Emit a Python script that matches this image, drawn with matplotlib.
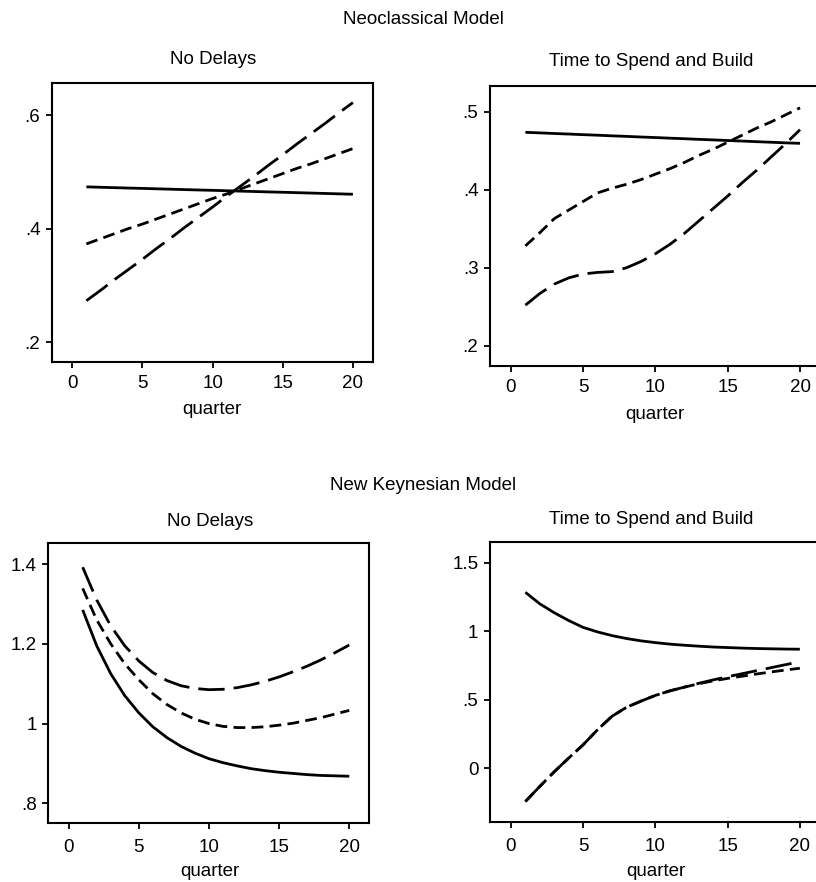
import matplotlib
matplotlib.use("Agg")
import matplotlib.pyplot as plt

plt.rcParams['font.family'] = ['Liberation Sans', 'DejaVu Sans']
plt.rcParams['lines.scale_dashes'] = False

quarter = list(range(1, 21))

# Neoclassical model, no delays
neo_nd_solid = [.4735, .4728, .4721, .4714, .4708, .4701, .4694, .4687, .4680, .4674,
                .4667, .4660, .4653, .4646, .4640, .4633, .4626, .4619, .4612, .4605]
neo_nd_short = [.373, .382, .391, .400, .408, .417, .426, .435, .444, .453,
                .461, .470, .479, .488, .497, .506, .514, .523, .532, .541]
neo_nd_long = [.273, .291, .310, .328, .346, .365, .383, .402, .420, .438,
               .457, .475, .493, .512, .530, .549, .567, .585, .604, .622]

# Neoclassical model, time to spend and build
neo_tb_solid = [.4736, .4729, .4721, .4714, .4706, .4699, .4691, .4684, .4676, .4669,
                .4661, .4654, .4646, .4639, .4631, .4624, .4616, .4609, .4601, .4595]
neo_tb_short = [.328, .345, .363, .374, .385, .396, .402, .407, .413, .420,
                .427, .435, .444, .452, .461, .470, .479, .487, .496, .505]
neo_tb_long = [.252, .267, .279, .287, .292, .294, .295, .300, .308, .318,
               .330, .344, .360, .376, .392, .409, .425, .442, .459, .477]

# New Keynesian model, no delays
nk_nd_solid = [1.285, 1.195, 1.125, 1.070, 1.027, .992, .965, .943, .926, .912,
               .902, .894, .887, .882, .878, .875, .872, .870, .869, .868]
nk_nd_short = [1.339, 1.260, 1.200, 1.150, 1.110, 1.075, 1.048, 1.027, 1.011, 1.000,
               .993, .990, .990, .992, .996, 1.001, 1.008, 1.015, 1.024, 1.033]
nk_nd_long = [1.392, 1.310, 1.245, 1.195, 1.157, 1.128, 1.108, 1.095, 1.088, 1.085,
              1.086, 1.090, 1.097, 1.106, 1.117, 1.130, 1.144, 1.160, 1.178, 1.197]

# New Keynesian model, time to spend and build
nk_tb_solid = [1.284, 1.200, 1.135, 1.078, 1.028, .995, .968, .947, .930, .917,
               .906, .898, .891, .885, .881, .877, .874, .872, .870, .869]
nk_tb_short = [-.242, -.132, -.025, .075, .172, .282, .380, .445, .490, .532,
               .565, .592, .617, .638, .656, .672, .688, .703, .717, .730]
nk_tb_long = [-.242, -.132, -.025, .075, .172, .282, .380, .445, .490, .532,
              .565, .592, .620, .645, .668, .690, .712, .734, .756, .778]

W, H = 816, 882
fig = plt.figure(figsize=(W / 100, H / 100), dpi=100)


def px_axes(l, t, r, b):
    return fig.add_axes([l / W, 1 - b / H, (r - l) / W, (b - t) / H])


def txt(x, y, s):
    fig.text(x / W, 1 - y / H, s, ha='center', va='center', fontsize=13.5)


long_dash = (0, (19, 6.5))
short_dash = (0, (8.5, 4.5))


def panel(ax, solid, short, long, ylim, yticks, ylabels, xpad=5):
    ax.plot(quarter, solid, color='black', lw=2.0, solid_capstyle='butt')
    ax.plot(quarter, short, color='black', lw=2.0, linestyle=short_dash)
    ax.plot(quarter, long, color='black', lw=2.0, linestyle=long_dash)
    ax.set_xlim(-1.45, 21.43)
    ax.set_ylim(*ylim)
    ax.set_xticks([0, 5, 10, 15, 20])
    ax.set_yticks(yticks)
    ax.set_yticklabels(ylabels)
    ax.tick_params(labelsize=13.5, width=1.3, length=4.3, colors='black')
    ax.tick_params(axis='x', pad=xpad)
    ax.tick_params(axis='y', pad=4)
    for s in ax.spines.values():
        s.set_linewidth(1.5)


ax1 = px_axes(52, 82.7, 373, 362)
panel(ax1, neo_nd_solid, neo_nd_short, neo_nd_long, (0.165, 0.657),
      [.2, .4, .6], ['.2', '.4', '.6'])

ax2 = px_axes(490, 86, 820.7, 366)
panel(ax2, neo_tb_solid, neo_tb_short, neo_tb_long, (0.174, 0.533),
      [.2, .3, .4, .5], ['.2', '.3', '.4', '.5'])

ax3 = px_axes(48.3, 543.3, 369.3, 823.3)
panel(ax3, nk_nd_solid, nk_nd_short, nk_nd_long, (0.75, 1.452),
      [.8, 1.0, 1.2, 1.4], ['.8', '1', '1.2', '1.4'], xpad=7)

ax4 = px_axes(490, 542.3, 820.5, 822.3)
panel(ax4, nk_tb_solid, nk_tb_short, nk_tb_long, (-0.394, 1.649),
      [0, .5, 1, 1.5], ['0', '.5', '1', '1.5'], xpad=7)

txt(423, 20, 'Neoclassical Model')
txt(213, 59, 'No Delays')
txt(651, 62, 'Time to Spend and Build')
txt(212, 410, 'quarter')
txt(655, 414, 'quarter')

txt(423, 486, 'New Keynesian Model')
txt(210, 521, 'No Delays')
txt(651, 519, 'Time to Spend and Build')
txt(210, 871, 'quarter')
txt(656, 871, 'quarter')

fig.savefig('out.png', dpi=100)
